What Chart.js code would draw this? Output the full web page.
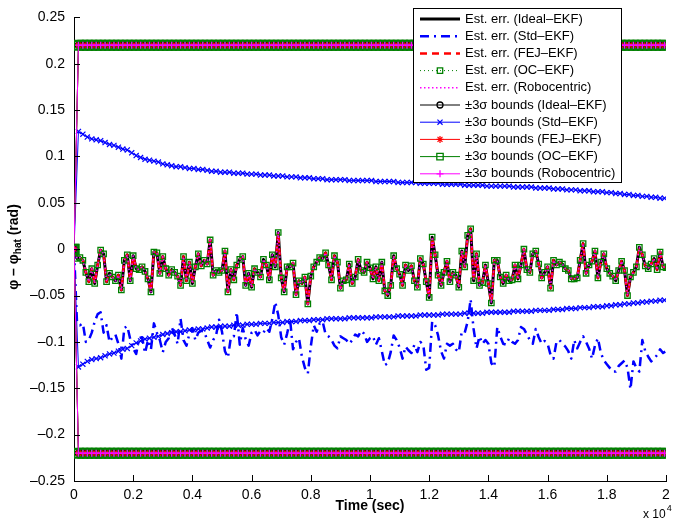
<!DOCTYPE html>
<html>
<head>
<meta charset="utf-8">
<script src="https://cdn.jsdelivr.net/npm/chart.js@4.4.1/dist/chart.umd.min.js"></script>
<style>
  html, body { margin: 0; padding: 0; background: #fff; }
</style>
</head>
<body>
<canvas id="chart" width="678" height="521"></canvas>
<script>
// sampling of the logged quantities (seconds between samples)
const errStep = 100;
const boundStep = 150;

// heading error shared by Ideal / FEJ / OC / Robocentric filters (rad)
const errConsistent = [
  0, -0.010, -0.009, -0.012, -0.025, -0.035, -0.021, -0.037, -0.017, -0.001,
  -0.005, -0.035, -0.026, -0.030, -0.034, -0.028, -0.044, -0.012, -0.006, -0.034,
  -0.007, -0.021, -0.022, -0.019, -0.024, -0.032, -0.046, -0.003, -0.004, -0.026,
  -0.008, -0.021, -0.028, -0.022, -0.025, -0.029, -0.039, -0.008, -0.034, -0.014,
  -0.037, -0.019, -0.005, -0.018, -0.012, -0.016, 0.010, -0.028, -0.023, -0.025,
  -0.023, -0.002, -0.046, -0.022, -0.033, -0.017, -0.011, -0.008, -0.039, -0.026,
  -0.041, -0.021, -0.025, -0.030, -0.011, -0.017, -0.033, -0.006, -0.019, 0.018,
  -0.031, -0.046, -0.019, -0.019, -0.015, -0.049, -0.034, -0.037, -0.030, -0.059,
  -0.029, -0.019, -0.014, -0.009, -0.010, -0.004, -0.017, -0.033, -0.007, -0.014,
  -0.042, -0.034, -0.033, -0.016, -0.037, -0.030, -0.011, -0.023, -0.025, -0.014,
  -0.020, -0.032, -0.019, -0.034, -0.014, -0.045, -0.050, -0.039, -0.007, -0.021,
  -0.027, -0.039, -0.017, -0.023, -0.018, -0.034, -0.041, -0.010, -0.016, -0.035,
  -0.052, 0.013, -0.006, -0.028, -0.039, -0.025, -0.013, -0.035, -0.025, -0.028,
  -0.041, -0.002, -0.019, 0.015, 0.022, -0.034, -0.005, -0.039, -0.036, -0.017,
  -0.037, -0.058, -0.012, -0.012, -0.030, -0.037, -0.028, -0.034, -0.033, -0.017,
  -0.032, -0.017, 0.000, -0.022, -0.025, -0.005, -0.002, -0.016, -0.031, -0.025,
  -0.019, -0.042, -0.012, -0.017, -0.014, -0.016, -0.021, -0.023, -0.032, -0.032,
  -0.031, -0.012, 0.006, -0.026, -0.017, -0.013, -0.002, -0.031, -0.014, -0.005,
  -0.021, -0.026, -0.029, -0.034, -0.023, -0.013, -0.023, -0.050, -0.030, -0.025,
  -0.019, 0.002, -0.006, -0.018, -0.021, -0.016, -0.010, -0.022, -0.003, -0.019,
  -0.020
];

// heading error of the standard EKF (rad)
const errStd = [
  0, -0.078, -0.082, -0.080, -0.100, -0.098, -0.090, -0.078, -0.070, -0.068,
  -0.090, -0.082, -0.100, -0.095, -0.092, -0.102, -0.118, -0.085, -0.083, -0.097,
  -0.107, -0.113, -0.096, -0.095, -0.112, -0.098, -0.108, -0.080, -0.090, -0.098,
  -0.111, -0.100, -0.096, -0.084, -0.092, -0.102, -0.075, -0.098, -0.104, -0.091,
  -0.085, -0.098, -0.090, -0.088, -0.089, -0.098, -0.106, -0.098, -0.093, -0.076,
  -0.089, -0.110, -0.117, -0.095, -0.094, -0.068, -0.103, -0.085, -0.097, -0.104,
  -0.090, -0.087, -0.093, -0.088, -0.090, -0.085, -0.089, -0.075, -0.057, -0.071,
  -0.095, -0.103, -0.091, -0.076, -0.108, -0.100, -0.096, -0.116, -0.128, -0.134,
  -0.105, -0.082, -0.089, -0.080, -0.078, -0.092, -0.094, -0.098, -0.104, -0.107,
  -0.094, -0.096, -0.098, -0.102, -0.098, -0.092, -0.094, -0.088, -0.091, -0.100,
  -0.096, -0.094, -0.103, -0.096, -0.110, -0.125, -0.123, -0.111, -0.093, -0.098,
  -0.106, -0.118, -0.105, -0.109, -0.112, -0.103, -0.111, -0.100, -0.103, -0.130,
  -0.128, -0.078, -0.082, -0.093, -0.110, -0.118, -0.102, -0.104, -0.102, -0.108,
  -0.111, -0.089, -0.090, -0.078, -0.054, -0.086, -0.107, -0.094, -0.102, -0.098,
  -0.102, -0.123, -0.127, -0.084, -0.094, -0.102, -0.103, -0.096, -0.100, -0.102,
  -0.098, -0.084, -0.086, -0.092, -0.098, -0.102, -0.086, -0.095, -0.102, -0.099,
  -0.102, -0.114, -0.118, -0.100, -0.098, -0.102, -0.105, -0.110, -0.118, -0.098,
  -0.107, -0.100, -0.094, -0.100, -0.107, -0.118, -0.104, -0.096, -0.112, -0.120,
  -0.124, -0.128, -0.132, -0.132, -0.126, -0.123, -0.120, -0.128, -0.151, -0.121,
  -0.128, -0.132, -0.098, -0.110, -0.116, -0.121, -0.118, -0.114, -0.108, -0.112,
  -0.110
];

// 3-sigma bound of the standard EKF (rad)
const boundStd = [
  0, 0.127, 0.124, 0.121, 0.119, 0.118, 0.117, 0.115, 0.113, 0.112,
  0.110, 0.108, 0.107, 0.104, 0.101, 0.099, 0.097, 0.096, 0.095, 0.094,
  0.092, 0.091, 0.090, 0.089, 0.089, 0.088, 0.087, 0.087, 0.086, 0.086,
  0.085, 0.084, 0.084, 0.083, 0.083, 0.083, 0.082, 0.082, 0.082, 0.081,
  0.081, 0.081, 0.080, 0.080, 0.080, 0.079, 0.079, 0.079, 0.078, 0.078,
  0.078, 0.077, 0.077, 0.077, 0.076, 0.076, 0.076, 0.075, 0.075, 0.075,
  0.075, 0.075, 0.074, 0.074, 0.074, 0.074, 0.074, 0.074, 0.073, 0.073,
  0.073, 0.073, 0.073, 0.072, 0.072, 0.072, 0.072, 0.072, 0.071, 0.071,
  0.071, 0.071, 0.071, 0.070, 0.070, 0.070, 0.070, 0.070, 0.069, 0.069,
  0.069, 0.069, 0.069, 0.068, 0.068, 0.068, 0.068, 0.068, 0.068, 0.067,
  0.067, 0.067, 0.067, 0.067, 0.066, 0.066, 0.066, 0.066, 0.065, 0.065,
  0.065, 0.064, 0.064, 0.064, 0.063, 0.063, 0.063, 0.062, 0.062, 0.062,
  0.061, 0.061, 0.060, 0.060, 0.059, 0.059, 0.058, 0.058, 0.057, 0.057,
  0.056, 0.056, 0.055, 0.055
];

// 3-sigma bound shared by Ideal / FEJ / OC / Robocentric (rad)
const boundConsistent = [
  0, 0.22, 0.22, 0.22, 0.22, 0.22, 0.22, 0.22, 0.22, 0.22,
  0.22, 0.22, 0.22, 0.22, 0.22, 0.22, 0.22, 0.22, 0.22, 0.22,
  0.22, 0.22, 0.22, 0.22, 0.22, 0.22, 0.22, 0.22, 0.22, 0.22,
  0.22, 0.22, 0.22, 0.22, 0.22, 0.22, 0.22, 0.22, 0.22, 0.22,
  0.22, 0.22, 0.22, 0.22, 0.22, 0.22, 0.22, 0.22, 0.22, 0.22,
  0.22, 0.22, 0.22, 0.22, 0.22, 0.22, 0.22, 0.22, 0.22, 0.22,
  0.22, 0.22, 0.22, 0.22, 0.22, 0.22, 0.22, 0.22, 0.22, 0.22,
  0.22, 0.22, 0.22, 0.22, 0.22, 0.22, 0.22, 0.22, 0.22, 0.22,
  0.22, 0.22, 0.22, 0.22, 0.22, 0.22, 0.22, 0.22, 0.22, 0.22,
  0.22, 0.22, 0.22, 0.22, 0.22, 0.22, 0.22, 0.22, 0.22, 0.22,
  0.22, 0.22, 0.22, 0.22, 0.22, 0.22, 0.22, 0.22, 0.22, 0.22,
  0.22, 0.22, 0.22, 0.22, 0.22, 0.22, 0.22, 0.22, 0.22, 0.22,
  0.22, 0.22, 0.22, 0.22, 0.22, 0.22, 0.22, 0.22, 0.22, 0.22,
  0.22, 0.22, 0.22, 0.22
];

const legendLabels = [
  'Est. err. (Ideal\u2013EKF)', 'Est. err. (Std\u2013EKF)', 'Est. err. (FEJ\u2013EKF)',
  'Est. err. (OC\u2013EKF)', 'Est. err. (Robocentric)',
  '\u00b13\u03c3 bounds (Ideal\u2013EKF)', '\u00b13\u03c3 bounds (Std\u2013EKF)',
  '\u00b13\u03c3 bounds (FEJ\u2013EKF)', '\u00b13\u03c3 bounds (OC\u2013EKF)',
  '\u00b13\u03c3 bounds (Robocentric)'
];

const BLACK = '#000000', BLUE = '#0000ff', RED = '#ff0000', GREEN = '#008000', MAGENTA = '#ff00ff';

const toPoints = (vals, step, sign = 1) => vals.map((v, i) => ({ x: i * step, y: sign * v }));

function errLine(vals, color, width, dash, marker) {
  return {
    data: toPoints(vals, errStep),
    borderColor: color, borderWidth: width, borderDash: dash,
    borderJoinStyle: 'round',
    pointStyle: marker ? marker.style : false,
    pointRadius: marker ? marker.r : 0,
    pointBorderWidth: marker ? marker.w : 0,
    pointBorderColor: color, pointBackgroundColor: 'rgba(0,0,0,0)'
  };
}
function boundLine(vals, sign, color, style, r, w) {
  return {
    data: toPoints(vals, boundStep, sign),
    borderColor: color, borderWidth: 1, borderDash: [],
    borderJoinStyle: 'round',
    pointStyle: style, pointRadius: r, pointBorderWidth: w,
    pointBorderColor: color, pointBackgroundColor: 'rgba(0,0,0,0)'
  };
}

// legend entry i -> dataset i; datasets listed in MATLAB plotting order
const datasets = [
  errLine(errConsistent, BLACK, 3, []),
  errLine(errStd, BLUE, 2.5, [9, 5, 2, 5]),
  errLine(errConsistent, RED, 2.5, [7, 5]),
  errLine(errConsistent, GREEN, 1, [1, 3], { style: 'rect', r: 3.8, w: 1.3 }),
  errLine(errConsistent, MAGENTA, 1.5, [1.5, 2.5]),
  boundLine(boundConsistent, 1, BLACK, 'circle', 3, 1.5),
  boundLine(boundStd, 1, BLUE, 'crossRot', 3.6, 1.2),
  boundLine(boundConsistent, 1, RED, 'star', 3.5, 1.2),
  boundLine(boundConsistent, 1, GREEN, 'rect', 6.2, 2.2),
  boundLine(boundConsistent, 1, MAGENTA, 'cross', 3.5, 1.3),
  boundLine(boundConsistent, -1, BLACK, 'circle', 3, 1.5),
  boundLine(boundStd, -1, BLUE, 'crossRot', 3.6, 1.2),
  boundLine(boundConsistent, -1, RED, 'star', 3.5, 1.2),
  boundLine(boundConsistent, -1, GREEN, 'rect', 6.2, 2.2),
  boundLine(boundConsistent, -1, MAGENTA, 'cross', 3.5, 1.3)
];
// later datasets are drawn on top, as in MATLAB
datasets.forEach((d, i) => { d.order = datasets.length - i; d.tension = 0; });

const FONT = '"Liberation Sans", Arial, Helvetica, sans-serif';
Chart.defaults.font.family = FONT;
Chart.defaults.font.size = 14;
Chart.defaults.color = '#000';

const fmtTick = v => {
  const n = Math.round(v * 1000) / 1000;
  return n === 0 ? '0' : String(n).replace('-', '\u2013');
};

// inward ticks, axis titles, exponent note and the boxed legend
const matlabDecor = {
  id: 'matlabDecor',
  afterDraw(chart) {
    const { ctx, chartArea: a, scales } = chart;
    ctx.save();
    ctx.strokeStyle = '#000';
    ctx.lineWidth = 1;
    ctx.setLineDash([]);
    ctx.beginPath();
    scales.x.ticks.forEach(t => {
      const px = Math.round(scales.x.getPixelForValue(t.value)) + 0.5;
      ctx.moveTo(px, a.bottom); ctx.lineTo(px, a.bottom - 6);
    });
    scales.y.ticks.forEach(t => {
      const py = Math.round(scales.y.getPixelForValue(t.value)) + 0.5;
      ctx.moveTo(a.left, py); ctx.lineTo(a.left + 6, py);
    });
    ctx.stroke();

    // x title
    ctx.fillStyle = '#000';
    ctx.font = 'bold 14px ' + FONT;
    ctx.textAlign = 'center';
    ctx.textBaseline = 'middle';
    ctx.fillText('Time (sec)', (a.left + a.right) / 2, 506);

    // exponent note
    ctx.textAlign = 'left';
    ctx.font = '12px ' + FONT;
    ctx.fillText('x 10', 643, 515);
    const w10 = ctx.measureText('x 10').width;
    ctx.font = '9px ' + FONT;
    ctx.fillText('4', 643 + w10 + 1, 509);

    // y title, rotated, with subscript
    ctx.save();
    ctx.translate(14, 247);
    ctx.rotate(-Math.PI / 2);
    const bold = 'bold 14px ' + FONT, sub = 'bold 10px ' + FONT;
    const p1 = '\u03c6 \u2013 \u03c6', p2 = 'hat', p3 = ' (rad)';
    ctx.font = bold; const w1 = ctx.measureText(p1).width, w3 = ctx.measureText(p3).width;
    ctx.font = sub; const w2 = ctx.measureText(p2).width;
    const x0 = -(w1 + w2 + w3) / 2;
    ctx.textAlign = 'left';
    ctx.font = bold; ctx.fillText(p1, x0, 0);
    ctx.font = sub; ctx.fillText(p2, x0 + w1, 4);
    ctx.font = bold; ctx.fillText(p3, x0 + w1 + w2, 0);
    ctx.restore();

    // legend box
    const bx = 413, by = 8, bw = 208, bh = 174;
    ctx.fillStyle = '#fff';
    ctx.fillRect(bx, by, bw, bh);
    ctx.strokeStyle = '#000';
    ctx.lineWidth = 1;
    ctx.strokeRect(bx + 0.5, by + 0.5, bw, bh);
    ctx.font = '13px ' + FONT;
    ctx.textBaseline = 'middle';
    legendLabels.forEach((label, i) => {
      const d = datasets[i];
      const y = 19 + i * 17.2;
      ctx.strokeStyle = d.borderColor;
      ctx.lineWidth = d.borderWidth;
      ctx.setLineDash(d.borderDash || []);
      ctx.beginPath();
      ctx.moveTo(420, y); ctx.lineTo(460, y);
      ctx.stroke();
      ctx.setLineDash([]);
      if (d.pointRadius > 0) {
        ctx.strokeStyle = d.pointBorderColor;
        ctx.fillStyle = 'rgba(0,0,0,0)';
        ctx.lineWidth = Math.min(d.pointBorderWidth, 1.3);
        Chart.helpers.drawPoint(ctx, {
          pointStyle: d.pointStyle, radius: Math.min(d.pointRadius, 4.5),
          borderWidth: d.pointBorderWidth, rotation: 0
        }, 440, y);
      }
      ctx.fillStyle = '#000';
      ctx.fillText(label, 465, y);
    });
    ctx.restore();
  }
};

new Chart(document.getElementById('chart'), {
  type: 'line',
  data: { datasets },
  options: {
    responsive: false,
    animation: false,
    events: [],
    layout: { padding: { left: 0, top: 14, right: 12, bottom: 0 } },
    scales: {
      x: {
        type: 'linear', min: 0, max: 20000,
        afterFit: s => { s.height = 40; },
        grid: { display: false, drawTicks: false },
        border: { color: '#000', width: 1 },
        ticks: { stepSize: 2000, padding: 6, maxRotation: 0, callback: v => fmtTick(v / 10000) }
      },
      y: {
        type: 'linear', min: -0.25, max: 0.25,
        afterFit: s => { s.width = 74; },
        grid: { display: false, drawTicks: false },
        border: { color: '#000', width: 1 },
        ticks: { stepSize: 0.05, padding: 9, callback: v => fmtTick(v) }
      }
    },
    plugins: {
      legend: { display: false },
      tooltip: { enabled: false }
    }
  },
  plugins: [matlabDecor]
});
</script>
</body>
</html>
